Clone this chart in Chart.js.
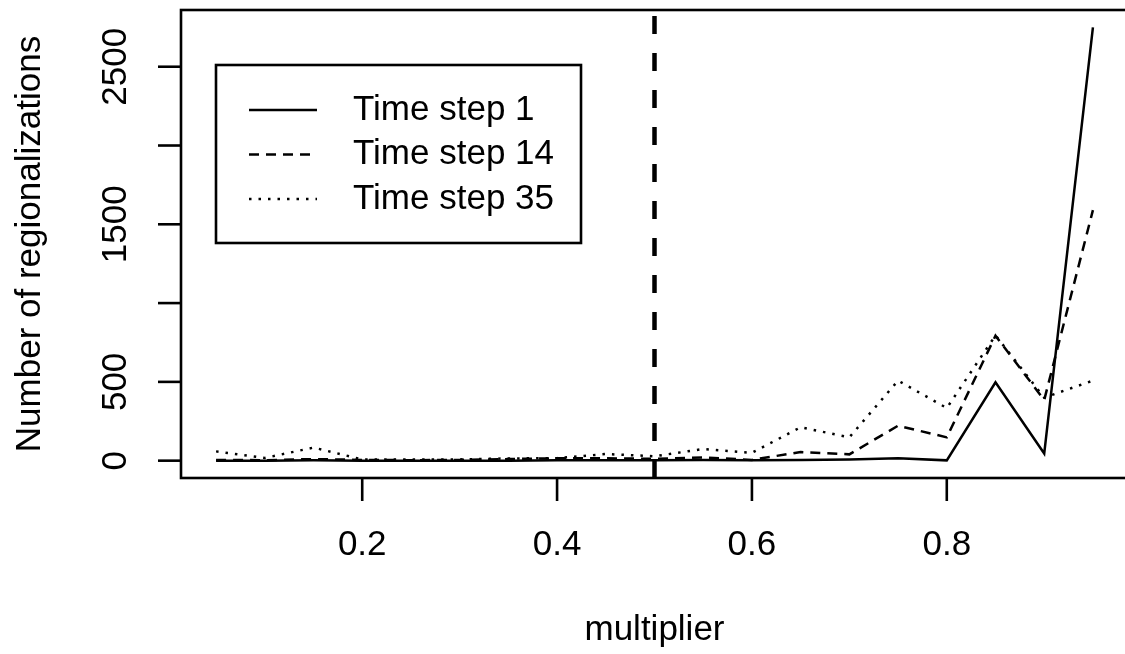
<!DOCTYPE html>
<html>
<head>
<meta charset="utf-8">
<script src="https://cdn.jsdelivr.net/npm/chart.js@4"></script>
<style>
    html, body { margin: 0; padding: 0; background: #fff; overflow: hidden; }
    #wrap { width: 1140px; height: 654px; }
</style>
</head>
<body>
<div id="wrap"><canvas id="regionsChart"></canvas></div>
<script>
const multipliers = [0.05, 0.10, 0.15, 0.20, 0.25, 0.30, 0.35, 0.40, 0.45, 0.50,
                     0.55, 0.60, 0.65, 0.70, 0.75, 0.80, 0.85, 0.90, 0.95];
const timeStep1  = [0, 0, 2, 0, 0, 0, 0, 2, 3, 3, 5, 3, 5, 8, 15, 2, 497, 45, 2750];
const timeStep14 = [5, 3, 10, 5, 3, 5, 10, 15, 15, 12, 20, 5, 55, 40, 222, 148, 793, 385, 1590];
const timeStep35 = [59, 17, 83, 8, 8, 8, 14, 16, 42, 28, 74, 50, 212, 148, 508, 334, 795, 400, 508];
const seriesNames = ['Time step 1', 'Time step 14', 'Time step 35'];
const xTicks = [0.2, 0.4, 0.6, 0.8];
const xTickLabels = ['0.2', '0.4', '0.6', '0.8'];
const yTicks = [0, 500, 1000, 1500, 2000, 2500];
// R leaves out labels that would overlap, so 1000 and 2000 have none
const yTickLabels = ['0', '500', '', '1500', '', '2500'];
const cutoff = 0.5;
const xTitle = 'multiplier';
const yTitle = 'Number of regionalizations';

const FONT = '35px "Liberation Sans", Arial, sans-serif';
const dashes = [[], [10, 7], [2.5, 7]];

function toPoints(values) {
    return values.map((v, i) => ({x: multipliers[i], y: v}));
}

// base-graphics look: box, ticks, titles, cutoff line and legend
const rAxes = {
    id: 'rAxes',
    afterDatasetsDraw(chart) {
        const ctx = chart.ctx;
        const a = chart.chartArea;
        const xs = chart.scales.x, ys = chart.scales.y;
        ctx.save();
        ctx.strokeStyle = '#000';
        ctx.fillStyle = '#000';

        // vertical dashed line at the cutoff
        const cx = xs.getPixelForValue(cutoff);
        ctx.lineWidth = 4.5;
        ctx.setLineDash([18, 19]);
        ctx.beginPath();
        ctx.moveTo(cx, a.bottom);
        ctx.lineTo(cx, a.top);
        ctx.stroke();
        ctx.setLineDash([]);

        // box
        ctx.lineWidth = 2.6;
        ctx.strokeRect(a.left, a.top, a.right - a.left, a.bottom - a.top);

        ctx.font = FONT;
        // x axis
        ctx.textAlign = 'center';
        ctx.textBaseline = 'middle';
        xTicks.forEach((t, i) => {
            const px = xs.getPixelForValue(t);
            ctx.beginPath();
            ctx.moveTo(px, a.bottom);
            ctx.lineTo(px, a.bottom + 23);
            ctx.stroke();
            ctx.fillText(xTickLabels[i], px, a.bottom + 67);
        });
        // y axis
        yTicks.forEach((t, i) => {
            const py = ys.getPixelForValue(t);
            ctx.beginPath();
            ctx.moveTo(a.left, py);
            ctx.lineTo(a.left - 23, py);
            ctx.stroke();
            if (!yTickLabels[i]) return;
            ctx.save();
            ctx.translate(a.left - 65, py);
            ctx.rotate(-Math.PI / 2);
            ctx.fillText(yTickLabels[i], 0, 0);
            ctx.restore();
        });

        // titles
        ctx.textBaseline = 'alphabetic';
        ctx.fillText(xTitle, (a.left + a.right) / 2, 640);
        ctx.save();
        ctx.translate(40, (a.top + a.bottom) / 2);
        ctx.rotate(-Math.PI / 2);
        ctx.fillText(yTitle, 0, 0);
        ctx.restore();

        // legend
        ctx.lineWidth = 2.6;
        ctx.strokeRect(216, 65, 365, 178);
        ctx.textAlign = 'left';
        ctx.textBaseline = 'middle';
        seriesNames.forEach((name, i) => {
            const ly = 110 + i * 44.5;
            ctx.setLineDash(dashes[i]);
            ctx.lineWidth = 2.5;
            ctx.beginPath();
            ctx.moveTo(249, ly);
            ctx.lineTo(317, ly);
            ctx.stroke();
            ctx.setLineDash([]);
            ctx.fillText(name, 353, ly);
        });
        ctx.restore();
    }
};

const chart = new Chart(document.getElementById('regionsChart'), {
    type: 'line',
    data: {
        datasets: [
            {label: seriesNames[0], data: toPoints(timeStep1), borderDash: dashes[0]},
            {label: seriesNames[1], data: toPoints(timeStep14), borderDash: dashes[1]},
            {label: seriesNames[2], data: toPoints(timeStep35), borderDash: dashes[2]}
        ].map(ds => Object.assign(ds, {
            borderColor: '#000',
            borderWidth: 2.5,
            pointRadius: 0,
            tension: 0,
            fill: false
        }))
    },
    options: {
        responsive: true,
        maintainAspectRatio: false,
        animation: false,
        layout: {padding: {left: 181, top: 10, right: 12, bottom: 176}},
        plugins: {
            legend: {display: false},
            tooltip: {enabled: false}
        },
        scales: {
            x: {type: 'linear', min: 0.014, max: 0.986, display: false},
            y: {type: 'linear', min: -110, max: 2860, display: false}
        }
    },
    plugins: [rAxes]
});
</script>
</body>
</html>
